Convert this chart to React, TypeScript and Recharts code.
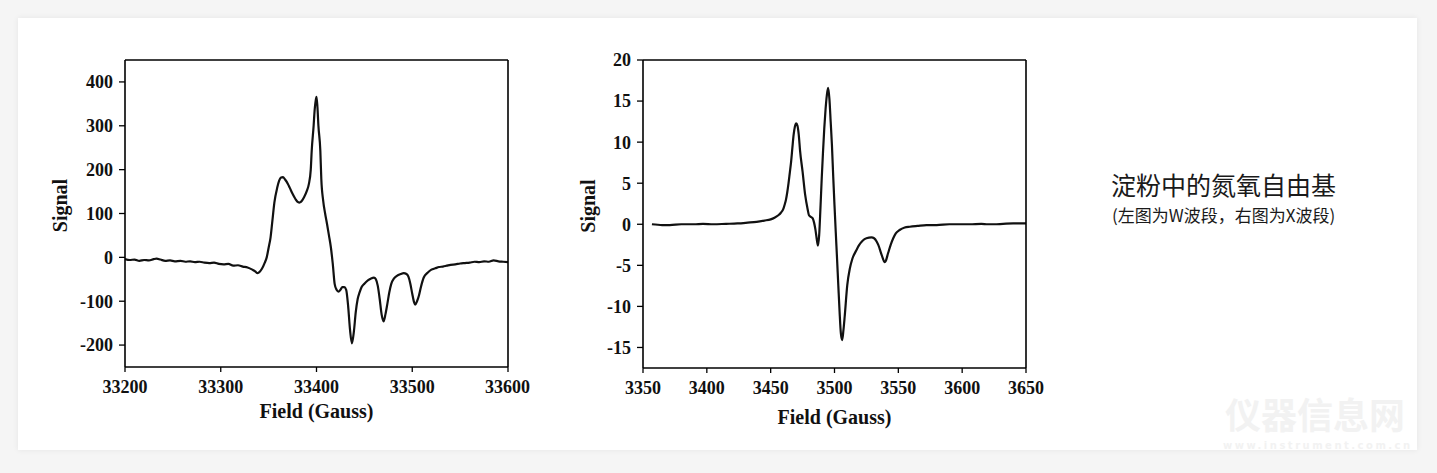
import React from 'react';
import { LineChart, Line, XAxis, YAxis } from 'recharts';

// W-band (left) spectrum: field (Gauss), signal
const wField = [33200, 33205, 33210, 33215, 33220, 33225, 33230, 33233, 33237, 33242, 33247, 33252, 33258, 33263, 33268, 33273, 33278, 33283, 33288, 33293, 33298, 33303, 33308, 33313, 33318, 33323, 33328, 33333, 33336, 33338, 33340, 33343, 33346, 33348, 33350, 33352, 33354, 33356, 33359, 33361, 33363, 33365, 33367, 33370, 33372, 33375, 33378, 33380, 33382, 33384, 33387, 33390, 33392, 33394, 33395, 33397, 33398, 33399, 33400, 33401, 33402, 33404, 33405, 33407, 33409, 33411, 33413, 33415, 33417, 33419, 33421, 33423, 33425, 33427, 33429, 33431, 33433, 33435, 33437, 33439, 33441, 33443, 33445, 33447, 33450, 33454, 33457, 33460, 33462, 33464, 33466, 33468, 33470, 33472, 33474, 33476, 33478, 33481, 33484, 33488, 33491, 33494, 33496, 33498, 33500, 33502, 33503, 33505, 33507, 33509, 33512, 33516, 33520, 33524, 33528, 33532, 33536, 33540, 33545, 33550, 33555, 33560, 33565, 33570, 33575, 33580, 33585, 33590, 33595, 33600];
const wSignal = [-4, -6, -5, -8, -6, -7, -4, -3, -5, -8, -7, -9, -8, -10, -9, -11, -10, -12, -13, -12, -15, -16, -15, -19, -18, -21, -23, -28, -32, -36, -34, -26, -12, 0, 22, 45, 85, 125, 159, 175, 182, 183, 178, 168, 159, 145, 133, 127, 125, 127, 137, 152, 167, 200, 243, 300, 334, 355, 366, 342, 300, 243, 180, 129, 100, 76, 50, 23, -15, -61, -74, -78, -74, -68, -68, -74, -110, -165, -196, -170, -125, -95, -80, -68, -60, -52, -48, -46, -50, -65, -95, -130, -146, -130, -106, -80, -61, -48, -42, -38, -36, -38, -44, -60, -83, -103, -108, -100, -87, -68, -46, -35, -28, -25, -22, -21, -19, -17, -16, -14, -13, -12, -10, -11, -9, -10, -7, -9, -10, -11];

// X-band (right) spectrum
const xField = [3357, 3365, 3371, 3380, 3390, 3397, 3405, 3415, 3424, 3432, 3439, 3445, 3450, 3453, 3456, 3458, 3460, 3461, 3462, 3463, 3464, 3465, 3466, 3467, 3468, 3469, 3470, 3471, 3472, 3473, 3475, 3477, 3479, 3480, 3482, 3483, 3484, 3485, 3486, 3487, 3488, 3489, 3490, 3491, 3492, 3493, 3494, 3495, 3496, 3497, 3498, 3499, 3500, 3501, 3502, 3503, 3504, 3505, 3506, 3507, 3508, 3510, 3512, 3514, 3517, 3519, 3522, 3525, 3529, 3531, 3533, 3535, 3536, 3538, 3539, 3540, 3542, 3544, 3546, 3548, 3551, 3555, 3559, 3565, 3572, 3580, 3590, 3598, 3606, 3615, 3620, 3625, 3632, 3640, 3645, 3650];
const xSignal = [0, -0.1, -0.1, 0, 0, 0.05, 0, 0.05, 0.1, 0.2, 0.3, 0.45, 0.6, 0.8, 1.1, 1.4, 1.9, 2.4, 3.0, 3.9, 5.0, 6.3, 7.6, 9.3, 10.9, 11.9, 12.3, 12.0, 10.9, 9.0, 6.4, 3.6, 1.8, 1.1, 0.85, 0.7, 0.2, -0.6, -1.7, -2.6, -1.3, 2.0, 5.6, 8.8, 11.7, 14.0, 15.7, 16.6, 15.3, 12.5, 9.6, 5.8, 2.3, -1.0, -4.2, -7.5, -10.7, -13.3, -14.1, -12.9, -11.2, -7.4, -5.4, -4.2, -3.2, -2.6, -2.0, -1.7, -1.6, -1.7, -2.1, -2.8, -3.3, -4.2, -4.6, -4.5, -3.5, -2.5, -1.7, -1.1, -0.7, -0.4, -0.3, -0.2, -0.1, -0.1, 0, 0, 0, 0.05, 0, 0, 0.05, 0.1, 0.1, 0.1];

const wTicksX = [33200, 33300, 33400, 33500, 33600];
const wMinorX = [33250, 33350, 33450, 33550];
const wTicksY = [-200, -100, 0, 100, 200, 300, 400];
const xTicksX = [3350, 3400, 3450, 3500, 3550, 3600, 3650];
const xMinorX = [3375, 3425, 3475, 3525, 3575, 3625];
const xTicksY = [-15, -10, -5, 0, 5, 10, 15, 20];

const titleText = '淀粉中的氮氧自由基';
const subtitleText = '(左图为W波段，右图为X波段)';
const xLabelText = 'Field (Gauss)';
const yLabelText = 'Signal';
const watermarkText = '仪器信息网';
const watermarkUrl = 'www.instrument.com.cn';

const wData = wField.map((x, i) => ({ x, y: wSignal[i] }));
const xData = xField.map((x, i) => ({ x, y: xSignal[i] }));

const serif = "'Liberation Serif', 'Times New Roman', serif";
const tickStyle = { fontFamily: serif, fontWeight: 700, fontSize: 18, fill: '#111' };
const axisStroke = { stroke: '#000', strokeWidth: 1.6 };

function yLabel(dxOff: number, dyOff: number) {
  return (props: any) => {
    const vb = props.viewBox || {};
    const x = vb.x + dxOff;
    const y = vb.y + vb.height / 2 + dyOff;
    return (
      <text x={x} y={y} transform={`rotate(-90, ${x}, ${y})`} textAnchor="middle" dominantBaseline="central"
        style={{ fontFamily: serif, fontWeight: 700, fontSize: 20, fill: '#111' }}>{yLabelText}</text>
    );
  };
}

function xLabel(dyOff: number) {
  return (props: any) => {
    const vb = props.viewBox || {};
    const x = vb.x + vb.width / 2;
    const y = vb.y + dyOff;
    return (
      <text x={x} y={y} textAnchor="middle" style={{ fontFamily: serif, fontWeight: 700, fontSize: 20, fill: '#111' }}>{xLabelText}</text>
    );
  };
}

function Spectrum(props: {
  data: { x: number; y: number }[];
  width: number; height: number;
  margin: any; yWidth: number;
  xDomain: number[]; yDomain: number[];
  xTicks: number[]; minor: number[]; yTicks: number[];
  xLabelDy: number; yLabelDx: number;
}) {
  const p = props;
  return (
    <LineChart width={p.width} height={p.height} data={p.data} margin={p.margin}>
      <XAxis xAxisId="minor" dataKey="x" type="number" domain={p.xDomain} ticks={p.minor} allowDataOverflow
        orientation="bottom" mirror height={1} tickSize={4} tick={false} axisLine={false}
        tickLine={{ stroke: '#000', strokeWidth: 1.3 }} />
      <XAxis dataKey="x" type="number" domain={p.xDomain} ticks={p.xTicks} allowDataOverflow
        height={50} tickSize={5} tickMargin={8} tick={tickStyle} axisLine={axisStroke}
        tickLine={{ stroke: '#000', strokeWidth: 1.3 }} label={{ content: xLabel(p.xLabelDy) } as any} />
      <XAxis xAxisId="top" dataKey="x" type="number" domain={p.xDomain} orientation="top" height={1}
        tick={false} tickLine={false} axisLine={axisStroke} />
      <YAxis type="number" domain={p.yDomain} ticks={p.yTicks} allowDataOverflow width={p.yWidth}
        tickSize={6} tickMargin={6} tick={tickStyle} axisLine={axisStroke}
        tickLine={{ stroke: '#000', strokeWidth: 1.3 }} label={{ content: yLabel(p.yLabelDx, -8) } as any} />
      <YAxis yAxisId="right" type="number" domain={p.yDomain} orientation="right" width={1}
        tick={false} tickLine={false} axisLine={axisStroke} />
      <Line xAxisId="minor" yAxisId="right" dataKey="y" stroke="none" strokeOpacity={0} dot={false} activeDot={false} isAnimationActive={false} />
      <Line xAxisId="top" dataKey="y" stroke="none" strokeOpacity={0} dot={false} activeDot={false} isAnimationActive={false} />
      <Line dataKey="y" type="monotone" stroke="#111" strokeWidth={2.2} dot={false} isAnimationActive={false} />
    </LineChart>
  );
}

export default function App() {
  const cjk = "'Noto Sans CJK SC', sans-serif";
  return (
    <div style={{ position: 'absolute', left: 0, top: 0, width: 1437, height: 473, background: '#f5f5f5', overflow: 'hidden' }}>
      <div style={{ position: 'absolute', left: 18, top: 18, width: 1399, height: 432, background: '#fff', boxShadow: '0 0 6px rgba(0,0,0,0.07)' }} />
      <div style={{ position: 'absolute', left: 20, top: 40 }}>
        <Spectrum data={wData} width={510} height={400} margin={{ top: 19, right: 21, left: 20, bottom: 23 }} yWidth={85}
          xDomain={[33200, 33600]} yDomain={[-250, 450]} xTicks={wTicksX} minor={wMinorX} yTicks={wTicksY}
          xLabelDy={51} yLabelDx={20} />
      </div>
      <div style={{ position: 'absolute', left: 553, top: 40 }}>
        <Spectrum data={xData} width={495} height={400} margin={{ top: 19, right: 21, left: 20, bottom: 22 }} yWidth={70}
          xDomain={[3350, 3650]} yDomain={[-17.5, 20]} xTicks={xTicksX} minor={xMinorX} yTicks={xTicksY}
          xLabelDy={56} yLabelDx={15} />
      </div>
      <div style={{ position: 'absolute', left: 1111, top: 166, fontFamily: cjk, color: '#1a1a1a', fontSize: 25, lineHeight: '36px', whiteSpace: 'nowrap' }}>{titleText}</div>
      <div style={{ position: 'absolute', left: 1112, top: 202, fontFamily: cjk, color: '#1a1a1a', fontSize: 17, lineHeight: '25px', whiteSpace: 'nowrap' }}>{subtitleText}</div>
      <div style={{ position: 'absolute', left: 1225, top: 395, fontFamily: cjk, color: '#f2f2f2', fontSize: 36, fontWeight: 700, lineHeight: '36px', whiteSpace: 'nowrap' }}>{watermarkText}</div>
      <div style={{ position: 'absolute', left: 1223, top: 440, fontFamily: "'DejaVu Sans', sans-serif", color: '#f2f2f2', fontSize: 10, fontWeight: 700, lineHeight: '12px', letterSpacing: 2.5, whiteSpace: 'nowrap' }}>{watermarkUrl}</div>
    </div>
  );
}
